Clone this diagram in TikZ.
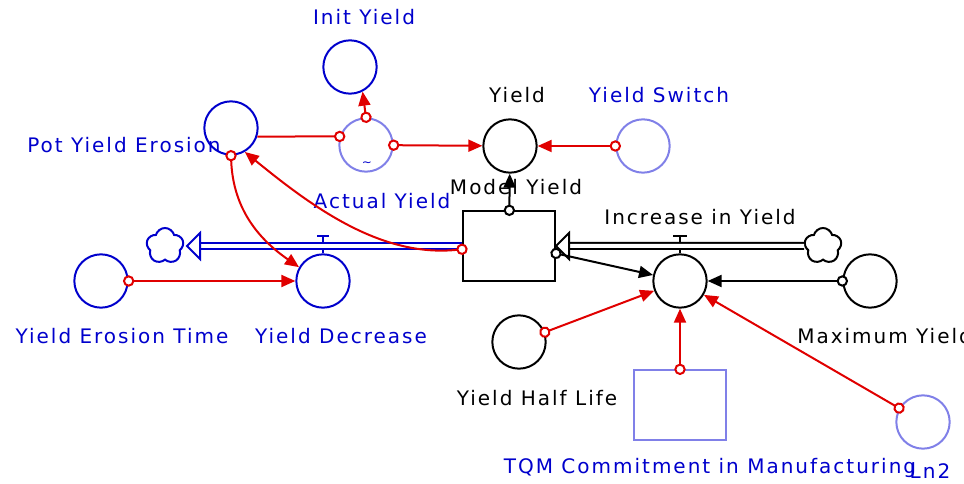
\documentclass[tikz,border=0pt]{standalone}
\usepackage{fontspec}
\newfontfamily\simfont{DejaVu Sans}[LetterSpace=10]
\usetikzlibrary{arrows.meta,shapes.symbols}
\definecolor{vblue}{RGB}{0,0,204}
\definecolor{vpale}{RGB}{128,128,232}
\definecolor{vred}{RGB}{224,0,0}
\tikzset{
  ring/.tip={Circle[length=8.5pt,width=8.5pt,fill=white]},
  arr/.tip={Triangle[length=10.5pt,width=9pt]}
}
\begin{document}
\begin{tikzpicture}[x=0.75pt, y=-0.75pt,
  var/.style={circle, draw, line width=1.5pt, minimum size=40pt, inner sep=0pt},
  stock/.style={rectangle, draw, line width=1.5pt, minimum width=69pt, minimum height=52pt, inner sep=0pt},
  cloudy/.style={cloud, cloud puffs=5, aspect=1.05, draw, line width=1.5pt, minimum width=28pt, minimum height=27pt, inner sep=0pt},
  lbl/.style={font=\simfont\fontsize{15}{17}\selectfont, inner sep=0pt, text height=11pt, text depth=0pt},
  link/.style={vred, line width=1.5pt, shorten <=-4.25pt, ring-arr},
  pipe/.style={double=white, double distance=3pt, line width=1.5pt},
  hollow/.style={line width=1.5pt, fill=white, line join=miter},
  valve/.style={line width=1.5pt}]
\useasboundingbox (0,0) rectangle (964,484);
% stocks and clouds
\node[stock] (model) at (509,246) {};
\node[stock, vpale] (tqm) at (680,405) {};
\node[cloudy, vblue] (sink) at (165,246) {};
\node[cloudy] (source) at (823,246) {};
% variables
\node[var, vblue] (init) at (350,67) {};
\node[var, vpale] (lookup) at (366,145) {};
\node[var, vblue] (pot) at (231,128) {};
\node[var] (yield) at (510,146) {};
\node[var, vpale] (switch) at (643,146) {};
\node[var, vblue] (erosion) at (101,281) {};
\node[var, vblue] (decrease) at (323,281) {};
\node[var] (increase) at (680,281) {};
\node[var] (maximum) at (870,281) {};
\node[var] (halflife) at (519,342) {};
\node[var, vpale] (ln2) at (923,422) {};
\node[inner sep=0pt, text=vblue, font=\simfont\fontsize{9}{9}\selectfont] (tilde) at (367,164) {\textasciitilde};
% labels
\node[lbl, text=vblue] (initlbl) at (364,17) {Init Yield};
\node[lbl, text=vblue] (potlbl) at (124,145) {Pot Yield Erosion};
\node[lbl] (yieldlbl) at (517,95) {Yield};
\node[lbl, text=vblue] (switchlbl) at (659,95) {Yield Switch};
\node[lbl] (modellbl) at (516,187) {Model Yield};
\node[lbl, text=vblue] (actuallbl) at (382,201) {Actual Yield};
\node[lbl] (increaselbl) at (700,217) {Increase in Yield};
\node[lbl, text=vblue] (erosionlbl) at (122,336) {Yield Erosion Time};
\node[lbl, text=vblue] (decreaselbl) at (341,336) {Yield Decrease};
\node[lbl, anchor=west] (maximumlbl) at (797,336) {Maximum Yield};
\node[lbl] (halflifelbl) at (537,398) {Yield Half Life};
\node[lbl, text=vblue] (tqmlbl) at (710,466) {TQM Commitment in Manufacturing};
\node[lbl, text=vblue] (ln2lbl) at (930,471) {Ln2};
% flows
\coordinate (sinktip) at (187,246);
\draw[valve, vblue] (decrease.north) -- ++(0,-17) ++(-6,0) -- ++(12,0);
\draw[pipe, vblue] (model.west) -- ([xshift=10pt]sinktip);
\draw[vblue, hollow] (sinktip) -- ++(13,-13) -- ++(0,26) -- cycle;
\draw[valve] (increase.north) -- ++(0,-17) ++(-7,0) -- ++(14,0);
\draw[pipe] (source.west) -- ([xshift=10pt]model.east);
\draw[hollow] (model.east) -- ++(13,-13) -- ++(0,26) -- cycle;
% links
\draw[vred, line width=1.5pt, shorten >=-4.25pt, -ring] (pot.-18) -- (lookup.162);
\draw[link] (lookup.north) -- (init.-63);
\draw[link] (lookup) -- (yield);
\draw[link] (switch) -- (yield);
\draw[link, black] (model) -- (yield);
\draw[link] (pot.south) .. controls (233,210) and (260,240) .. (decrease.150);
\draw[link] (model.184) .. controls (380,258) and (310,205) .. (pot.-60);
\draw[link] (erosion) -- (decrease);
\draw[link, black] (model.-9) -- (increase);
\draw[link, black] (maximum) -- (increase);
\draw[link] (halflife) -- (increase);
\draw[link] (tqm) -- (increase);
\draw[link] (ln2) -- (increase);
\end{tikzpicture}
\end{document}
